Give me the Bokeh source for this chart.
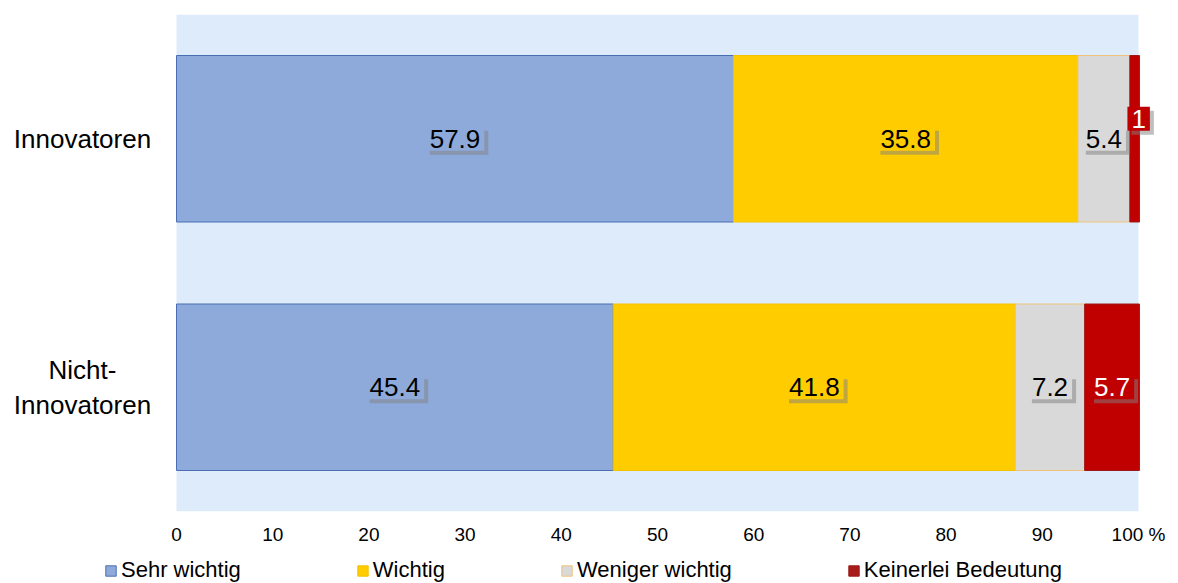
from bokeh.plotting import figure
from bokeh.layouts import column
from bokeh.models import (ColumnDataSource, Range1d, FactorRange, Legend, LegendItem,
                          FixedTicker, BoxAnnotation)
from bokeh.core.properties import value
from bokeh.embed import file_html
from bokeh.resources import INLINE

# ---- data ----
categories = ["Innovatoren", "Nicht-\nInnovatoren"]
series_names = ["Sehr wichtig", "Wichtig", "Weniger wichtig", "Keinerlei Bedeutung"]
sehr_wichtig = [57.9, 45.4]
wichtig = [35.8, 41.8]
weniger_wichtig = [5.4, 7.2]
keinerlei = [1, 5.7]
x_ticks = [0, 10, 20, 30, 40, 50, 60, 70, 80, 90, 100]
x_tick_labels = ["0", "10", "20", "30", "40", "50", "60", "70", "80", "90", "100 %"]

fill_colors = ["#8eaadb", "#ffcc00", "#d9d9d9", "#c00000"]
line_colors = ["#4a6eb3", "#f2c200", "#f0c27a", "#9c1a1a"]
legend_fill_colors = ["#8eaadb", "#ffcc00", "#d9d9d9", "#a81c1c"]
label_text_colors = ["#000000", "#000000", "#000000", "#ffffff"]

FONT = "Liberation Sans"

series_values = [sehr_wichtig, wichtig, weniger_wichtig, keinerlei]
keys = ["s0", "s1", "s2", "s3"]
data = {"cat": categories}
for k, v in zip(keys, series_values):
    data[k] = v
source = ColumnDataSource(data)

y_factors = categories[::-1]

# frame spans the whole width; data 0..100 maps to 176..1138 px
PX = 962 / 100.0
p = figure(
    width=1178, height=553,
    y_range=FactorRange(*y_factors, range_padding=0),
    x_range=Range1d(-176 / PX, 100 + 40 / PX),
    output_backend="svg", toolbar_location=None, y_axis_location=None,
    min_border_left=0, min_border_right=0, min_border_top=14, min_border_bottom=42,
)
p.background_fill_color = "white"
p.border_fill_color = "white"
p.outline_line_color = None
p.xgrid.visible = False
p.ygrid.visible = False

p.add_layout(BoxAnnotation(left=0, right=100, fill_color="#ddebfa", fill_alpha=1,
                           line_color=None, level="underlay"))

renderers = p.hbar_stack(keys, y="cat", height=0.67, source=source,
                         fill_color=fill_colors, line_color=line_colors, line_width=1)

# ---- category labels (left of the bars) ----
p.text(x=(82 - 176) / PX, y="cat", text="cat", source=source,
       text_align="center", text_baseline="middle", line_height=1.15,
       text_font=value(FONT), text_font_size="26px", text_color="#000000")

# ---- data labels ----
lx, ly, lt, lfill, ltc, lxo, lyo = [], [], [], [], [], [], []
for ci, cat in enumerate(categories):
    left = 0.0
    for si, vals in enumerate(series_values):
        v = vals[ci]
        lx.append(left + v / 2.0)
        ly.append(cat)
        lt.append(f"{v:g}")
        lfill.append(fill_colors[si])
        ltc.append(label_text_colors[si])
        small = v < 3
        lxo.append(4 if small else 0)
        lyo.append(-20 if small else 0)
        left += v
lsrc = ColumnDataSource(dict(x=lx, y=ly, text=lt, fill=lfill, tc=ltc, xo=lxo, yo=lyo,
                             sxo=[a + 4 for a in lxo], syo=[b + 4 for b in lyo]))

p.text(x="x", y="y", text="text", source=lsrc, x_offset="sxo", y_offset="syo",
       text_align="center", text_baseline="middle",
       text_font=value(FONT), text_font_size="26px", text_alpha=0,
       background_fill_color="#7f7f7f", background_fill_alpha=0.5, padding=(4, 3))
p.text(x="x", y="y", text="text", source=lsrc, x_offset="xo", y_offset="yo",
       text_align="center", text_baseline="middle",
       text_font=value(FONT), text_font_size="26px", text_color="tc",
       background_fill_color="fill", padding=(4, 3))

# ---- x axis ----
p.xaxis.ticker = FixedTicker(ticks=x_ticks)
p.xaxis.major_label_overrides = {t: l for t, l in zip(x_ticks, x_tick_labels)}
p.xaxis.axis_line_color = None
p.xaxis.major_tick_line_color = None
p.xaxis.minor_tick_line_color = None
p.xaxis.major_label_standoff = 6
p.xaxis.major_label_text_font = FONT
p.xaxis.major_label_text_font_size = "19px"
p.xaxis.major_label_text_color = "#000000"

# ---- legend strip ----
lf = figure(width=1178, height=30, x_range=Range1d(0, 1), y_range=Range1d(0, 1),
            output_backend="svg", toolbar_location=None,
            min_border=0, min_border_left=0, min_border_right=0,
            min_border_top=0, min_border_bottom=0,
            x_axis_location=None, y_axis_location=None)
lf.outline_line_color = None
lf.xgrid.visible = False
lf.ygrid.visible = False
lf.background_fill_color = "white"
lf.border_fill_color = "white"
lrs = []
for fc, lc in zip(legend_fill_colors, line_colors):
    lrs.append(lf.rect(x=[2], y=[2], width=0.1, height=0.1, fill_color=fc, line_color=lc))
legend = Legend(
    items=[LegendItem(label=n, renderers=[r]) for n, r in zip(series_names, lrs)],
    location=(104, 0), orientation="horizontal",
    padding=0, margin=0, spacing=115, label_standoff=4,
    glyph_width=13, glyph_height=13,
    label_text_font=FONT, label_text_font_size="22px", label_text_color="#000000",
    border_line_color=None, background_fill_alpha=0,
)
lf.add_layout(legend, "center")

layout = column(p, lf, spacing=0)
open("out.html", "w").write(file_html(layout, INLINE))
